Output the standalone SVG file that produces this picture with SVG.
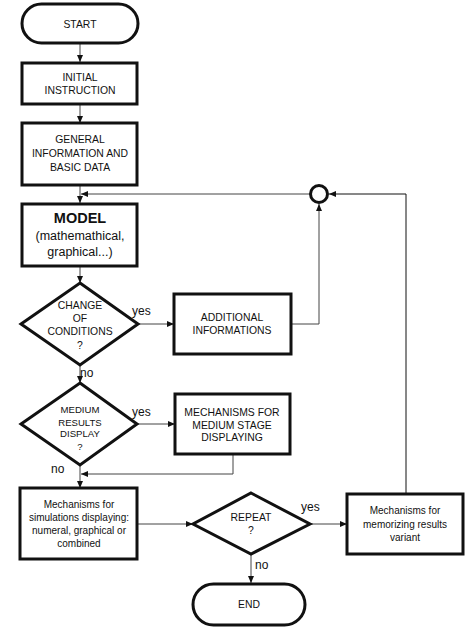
<svg xmlns="http://www.w3.org/2000/svg" width="472" height="636" viewBox="0 0 472 636">
<defs>
<style>
.box{fill:#fff;stroke:#111;stroke-width:3}
.conn{fill:none;stroke:#444;stroke-width:1}
text{font-family:"Liberation Sans",Arial,sans-serif;fill:#111;text-anchor:middle}
.cap{font-size:10.4px}
.low{font-size:10px}
.lab{font-size:12px;text-anchor:start}
</style>
<marker id="ah" markerWidth="7" markerHeight="6" refX="7" refY="3" orient="auto" markerUnits="userSpaceOnUse">
<path d="M0,0 L7,3 L0,6 z" fill="#111"/>
</marker>
</defs>
<rect width="472" height="636" fill="#fff"/>
<g id="connectors">
<path class="conn" d="M80,43 V62" marker-end="url(#ah)"/>
<path class="conn" d="M80,104 V123" marker-end="url(#ah)"/>
<path class="conn" d="M80,185 V203" marker-end="url(#ah)"/>
<path class="conn" d="M310,194 H81" marker-end="url(#ah)"/>
<path class="conn" d="M80,266 V283" marker-end="url(#ah)"/>
<path class="conn" d="M138,324 H174" marker-end="url(#ah)"/>
<path class="conn" d="M291,324 H319 V204" marker-end="url(#ah)"/>
<path class="conn" d="M80,365 V383" marker-end="url(#ah)"/>
<path class="conn" d="M137,424 H175" marker-end="url(#ah)"/>
<path class="conn" d="M233,454 V474 H81" marker-end="url(#ah)"/>
<path class="conn" d="M80,465 V488" marker-end="url(#ah)"/>
<path class="conn" d="M137,524 H193" marker-end="url(#ah)"/>
<path class="conn" d="M310,524 H347" marker-end="url(#ah)"/>
<path class="conn" d="M406,494 V194 H329" marker-end="url(#ah)" style="stroke:#111"/>
<path class="conn" d="M251,554 V583" marker-end="url(#ah)"/>
<text class="lab" x="132" y="315">yes</text>
<text class="lab" x="80" y="377">no</text>
<text class="lab" x="132" y="416">yes</text>
<text class="lab" x="51" y="473">no</text>
<text class="lab" x="301" y="511">yes</text>
<text class="lab" x="255" y="569">no</text>
</g>
<g id="start">
<rect class="box" x="22" y="4" width="116" height="39" rx="19.5"/>
<text class="cap" x="80" y="27.5">START</text>
</g>
<g id="initial">
<rect class="box" x="22" y="63" width="115" height="41"/>
<text class="cap" x="80" y="80.5">INITIAL</text>
<text class="cap" x="80" y="94">INSTRUCTION</text>
</g>
<g id="general">
<rect class="box" x="22" y="123" width="115" height="62"/>
<text class="cap" x="80" y="142.5">GENERAL</text>
<text class="cap" x="80" y="157">INFORMATION AND</text>
<text class="cap" x="80" y="170.5">BASIC DATA</text>
</g>
<g id="model">
<rect class="box" x="22" y="204" width="115" height="62"/>
<text x="80" y="223" style="font-size:14.5px;font-weight:bold">MODEL</text>
<text x="80" y="239.5" style="font-size:12.5px">(mathemathical,</text>
<text x="80" y="256" style="font-size:12.5px">graphical...)</text>
</g>
<g id="junction">
<circle cx="319" cy="194" r="8.5" fill="#fff" stroke="#111" stroke-width="3"/>
</g>
<g id="change">
<polygon class="box" points="80,283 138,324 80,365 21,324"/>
<text class="cap" x="80" y="308.5">CHANGE</text>
<text class="cap" x="80" y="321.5">OF</text>
<text class="cap" x="80" y="334.5">CONDITIONS</text>
<text class="cap" x="80" y="348.5">?</text>
</g>
<g id="additional">
<rect class="box" x="174" y="294" width="117" height="60"/>
<text class="cap" x="232" y="320.5">ADDITIONAL</text>
<text class="cap" x="232" y="333.5">INFORMATIONS</text>
</g>
<g id="medium">
<polygon class="box" points="80,383 137,424 80,465 21,424"/>
<text class="cap" x="80" y="413" style="font-size:9.6px">MEDIUM</text>
<text class="cap" x="80" y="425.5" style="font-size:9.6px">RESULTS</text>
<text class="cap" x="80" y="437" style="font-size:9.6px">DISPLAY</text>
<text class="cap" x="80" y="449.5" style="font-size:9.6px">?</text>
</g>
<g id="mediumstage">
<rect class="box" x="175" y="394" width="115" height="60"/>
<text class="cap" x="232" y="415.5">MECHANISMS FOR</text>
<text class="cap" x="232" y="428.5">MEDIUM STAGE</text>
<text class="cap" x="232" y="441">DISPLAYING</text>
</g>
<g id="simulation">
<rect class="box" x="20" y="488" width="117" height="71"/>
<text class="low" x="79" y="507.5">Mechanisms for</text>
<text class="low" x="79" y="520.5">simulations displaying:</text>
<text class="low" x="79" y="533.5">numeral, graphical or</text>
<text class="low" x="79" y="546.5">combined</text>
</g>
<g id="repeat">
<polygon class="box" points="251,493 310,524 251,554 193,524"/>
<text class="cap" x="251" y="520.5">REPEAT</text>
<text class="cap" x="251" y="533.5">?</text>
</g>
<g id="memorizing">
<rect class="box" x="347" y="494" width="116" height="60"/>
<text class="low" x="405" y="513.5">Mechanisms for</text>
<text class="low" x="405" y="527.5">memorizing results</text>
<text class="low" x="405" y="540.5">variant</text>
</g>
<g id="end">
<rect class="box" x="193" y="584" width="112" height="41" rx="20.5"/>
<text class="cap" x="249" y="608">END</text>
</g>
</svg>
